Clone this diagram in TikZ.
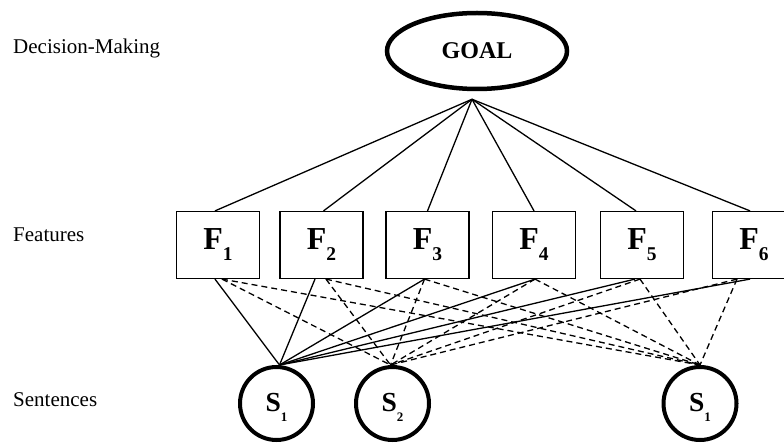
\documentclass[tikz,border=0pt]{standalone}
\usepackage{fontspec}
\setmainfont{Liberation Serif}
\usetikzlibrary{shapes.geometric,calc}
\newcommand\Flab[1]{{\fontsize{32}{32}\selectfont\bfseries F\raisebox{-11pt}{\fontsize{19.5}{19.5}\selectfont #1}}}
\newcommand\Slab[1]{{\rule{0pt}{25pt}\fontsize{27.5}{27.5}\selectfont\bfseries S\raisebox{-10pt}{\fontsize{13}{13}\selectfont #1}}}
\begin{document}
\begin{tikzpicture}[x=1pt,y=-1pt,
  lvl/.style={anchor=base west, inner sep=0pt, font=\fontsize{21}{21}\selectfont},
  goalnode/.style={ellipse, draw, line width=4.5pt, minimum width=180pt, minimum height=76pt, inner sep=0pt, font=\fontsize{24}{24}\selectfont\bfseries},
  feat/.style={rectangle, draw, line width=1.2pt, minimum width=83pt, minimum height=67pt, inner sep=0pt},
  sent/.style={circle, draw, line width=4pt, minimum size=73pt, inner sep=0pt},
  link/.style={line width=1.3pt},
  dlink/.style={line width=1.3pt, dash pattern=on 6pt off 4pt}]
\useasboundingbox (0,0) rectangle (784,446);
\clip (0,0) rectangle (784,446);
\fill[white] (0,0) rectangle (784,446);

\node[lvl] (lab1) at (13,54) {Decision-Making};
\node[lvl] (lab2) at (13,242) {Features};
\node[lvl] (lab3) at (13,406) {Sentences};

\node[goalnode] (goal) at (477,51) {GOAL};

\node[feat] (F1) at (218,245) {\Flab{1}};
\node[feat] (F2) at (321.5,245) {\Flab{2}};
\node[feat] (F3) at (427.5,245) {\Flab{3}};
\node[feat] (F4) at (534,245) {\Flab{4}};
\node[feat] (F5) at (642,245) {\Flab{5}};
\node[feat] (F6) at (754,245) {\Flab{6}};

\node[sent] (S1) at (276.5,403.5) {\Slab{1}};
\node[sent] (S2) at (392.5,403.5) {\Slab{2}};
\node[sent] (S3) at (700,403.5) {\Slab{1}};

\coordinate (gp) at ([shift={(-5pt,-8pt)}]goal.south);
\draw[link] (gp) -- ([xshift=-3pt]F1.north);
\draw[link] (gp) -- ([xshift=2pt]F2.north);
\draw[link] (gp) -- (F3.north);
\draw[link] (gp) -- (F4.north);
\draw[link] (gp) -- ([xshift=-6pt]F5.north);
\draw[link] (gp) -- ([xshift=-4pt]F6.north);

\coordinate (e1) at ([xshift=3pt]S1.north);
\coordinate (e2) at ([xshift=-2pt]S2.north);
\coordinate (e3) at (S3.north);

% solid lines to S1
\draw[link] ([xshift=-3pt]F1.south) -- (e1);
\draw[link] ([xshift=-6.5pt]F2.south) -- (e1);
\draw[link] ([xshift=-3pt]F3.south) -- (e1);
\draw[link] ([xshift=1pt]F4.south) -- (e1);
\draw[link] ([xshift=-7pt]F5.south) -- (e1);
\draw[link] ([xshift=-4pt]F6.south) -- (e1);

% dashed lines to S2 and S1 (right)
\draw[dlink] ([xshift=4pt]F1.south) -- (e2);
\draw[dlink] ([xshift=4pt]F1.south) -- (e3);
\draw[dlink] ([xshift=4.5pt]F2.south) -- (e2);
\draw[dlink] ([xshift=4.5pt]F2.south) -- (e3);
\draw[dlink] ([xshift=-3pt]F3.south) -- (e2);
\draw[dlink] ([xshift=-3pt]F3.south) -- (e3);
\draw[dlink] ([xshift=1pt]F4.south) -- (e2);
\draw[dlink] ([xshift=1pt]F4.south) -- (e3);
\draw[dlink] ([xshift=-2pt]F5.south) -- (e2);
\draw[dlink] ([xshift=-2pt]F5.south) -- (e3);
\draw[dlink] ([xshift=-17pt]F6.south) -- (e2);
\draw[dlink] ([xshift=-17pt]F6.south) -- (e3);
\end{tikzpicture}
\end{document}
